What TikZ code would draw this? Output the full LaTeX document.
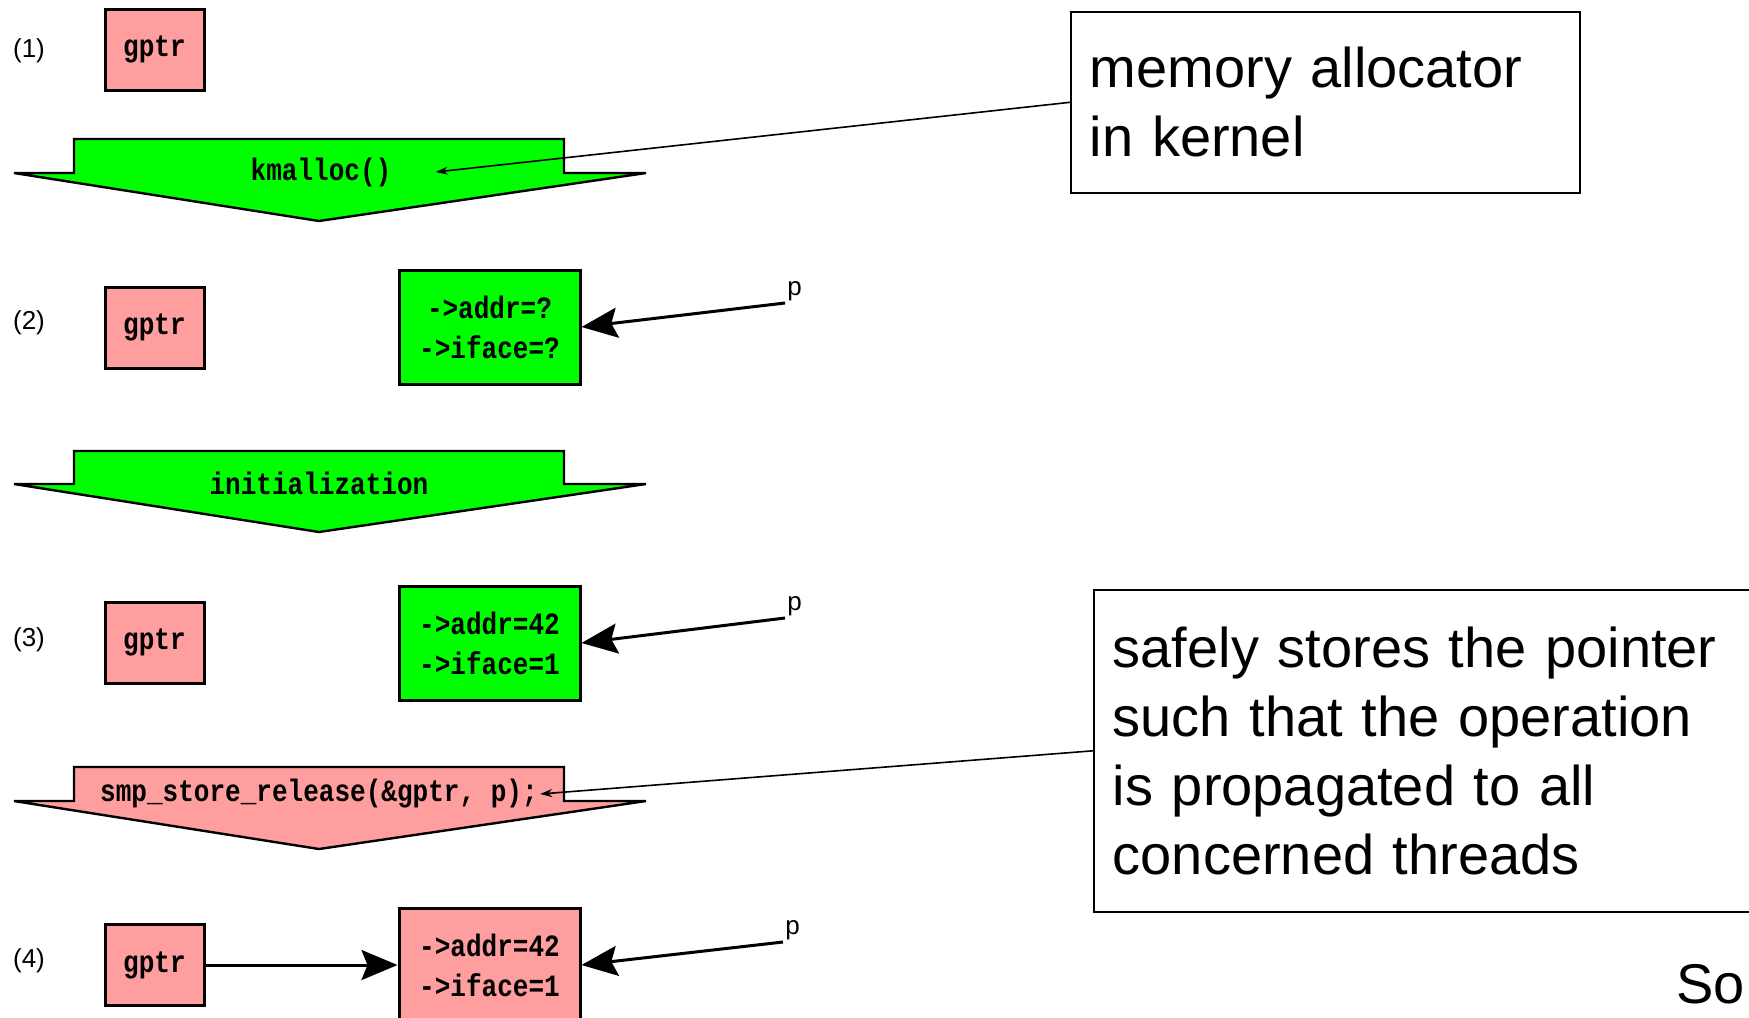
\documentclass[tikz,border=0pt]{standalone}
\usepackage{fontspec}
\setmainfont{Liberation Sans}
\newfontfamily\codefont[FakeStretch=0.84]{Liberation Mono}
\usepackage{xcolor}
\definecolor{memgreen}{RGB}{0,255,0}
\definecolor{mempink}{RGB}{255,158,158}
\usetikzlibrary{arrows.meta,positioning}

\begin{document}
\begin{tikzpicture}[x=0.5pt, y=-0.5pt,
    codebox/.style={draw, line width=1.5pt, inner sep=0pt, align=center,
        font={\codefont\bfseries\fontsize{15.5pt}{20pt}\selectfont}},
    codetext/.style={inner sep=0pt, font={\codefont\bfseries\fontsize{15.5pt}{20pt}\selectfont}},
    stepshape/.style={draw, line width=1.2pt, line join=miter},
    lbl/.style={inner sep=1pt, font=\fontsize{13pt}{15pt}\selectfont},
    note/.style={draw, line width=0.8pt, align=left, inner xsep=9.5pt, inner ysep=0pt,
        anchor=north west, font=\fontsize{28pt}{34.5pt}\selectfont},
    ptr/.style={-{Stealth[length=18pt, width=15pt, inset=3pt]}, line width=1.5pt},
    noteline/.style={-{Stealth[length=6pt, width=4pt]}, line width=0.8pt}]
    \useasboundingbox (0,0) rectangle (1749,1017);

    % (1) gptr only
    \node[lbl] (n1) at (29,51) {(1)};
    \node[codebox, fill=mempink, minimum width=49.5pt, minimum height=40.5pt] (gptr1) at (154.5,49.5) {gptr};

    % kmalloc step
    \draw[stepshape, fill=memgreen] (74,139) -- (564,139) -- (564,173) -- (646,173) -- (319,221) -- (14,173) -- (74,173) -- cycle;
    \node[codetext] (kmalloc) at (321,172) {kmalloc()};

    % (2) allocated object
    \node[lbl] (n2) at (29,323) {(2)};
    \node[codebox, fill=mempink, minimum width=49.5pt, minimum height=40.5pt] (gptr2) at (154.5,327.5) {gptr};
    \node[codebox, fill=memgreen, minimum width=90.5pt, minimum height=57pt] (obj2) at (489.5,327) {->addr=?\\->iface=?};
    \node[lbl, anchor=south west] (p2) at (785,303) {p};
    \draw[ptr] (p2.south west) -- (obj2.east);

    % initialization step
    \draw[stepshape, fill=memgreen] (74,451) -- (564,451) -- (564,484) -- (646,484) -- (319,532) -- (14,484) -- (74,484) -- cycle;
    \node[codetext] (init) at (319,483) {initialization};

    % (3) initialized object
    \node[lbl] (n3) at (29,640) {(3)};
    \node[codebox, fill=mempink, minimum width=49.5pt, minimum height=40.5pt] (gptr3) at (154.5,642.5) {gptr};
    \node[codebox, fill=memgreen, minimum width=90.5pt, minimum height=57pt] (obj3) at (489.5,643) {->addr=42\\->iface=1};
    \node[lbl, anchor=south west] (p3) at (785,618) {p};
    \draw[ptr] (p3.south west) -- (obj3.east);

    % publish step
    \draw[stepshape, fill=mempink] (74,767) -- (564,767) -- (564,801) -- (646,801) -- (319,849) -- (14,801) -- (74,801) -- cycle;
    \node[codetext] (smp) at (319,794) {smp\_store\_release(\&gptr, p);};

    % (4) published
    \node[lbl] (n4) at (29,961) {(4)};
    \node[codebox, fill=mempink, minimum width=49.5pt, minimum height=40.5pt] (gptr4) at (154.5,965) {gptr};
    \node[codebox, fill=mempink, minimum width=90.5pt, minimum height=57pt] (obj4) at (489.5,965) {->addr=42\\->iface=1};
    \node[lbl, anchor=south west] (p4) at (783,942) {p};
    \draw[ptr] (p4.south west) -- (obj4.east);
    \draw[ptr] (gptr4.east) -- (obj4.west);

    % Notes
    \node[note, text width=235.5pt, minimum height=90.5pt] (memnote) at (1070,11) {memory allocator\\in kernel};
    \draw[noteline] (memnote.west) -- ([xshift=22pt]kmalloc.east);

    \node[note, text width=381pt, minimum height=161pt] (relnote) at (1093,589) {safely stores the pointer\\such that the operation\\is propagated to all\\concerned threads};
    \draw[noteline] (relnote.west) -- ([xshift=1pt]smp.east);

    \node[anchor=west, inner sep=0pt, font=\fontsize{28pt}{34.5pt}\selectfont] (so) at (1676,984) {So};
\end{tikzpicture}
\end{document}
